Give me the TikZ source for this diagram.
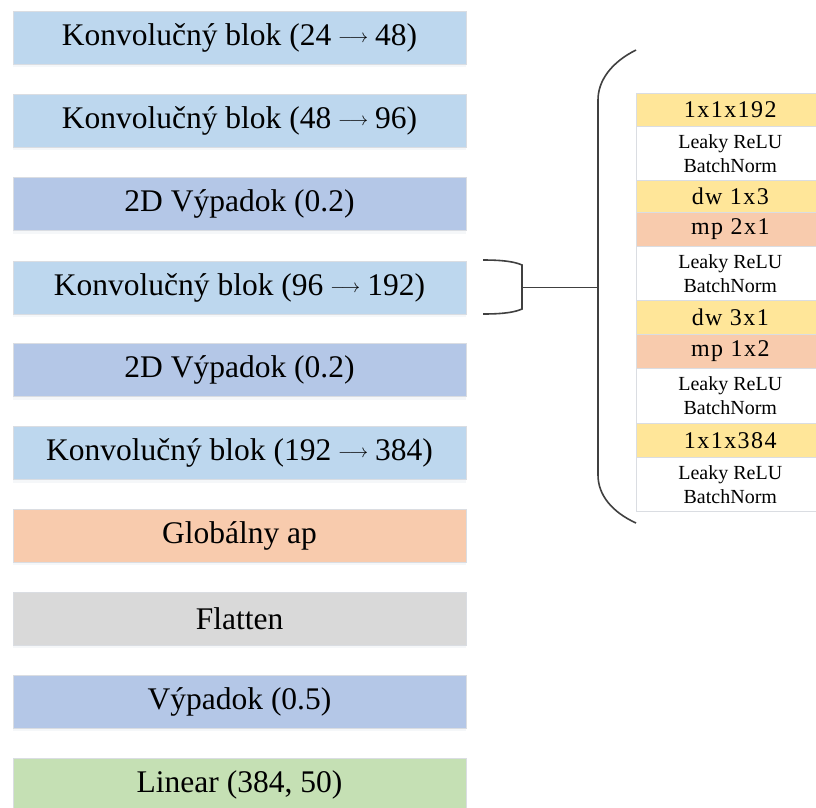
\documentclass[tikz,border=0pt]{standalone}
\usepackage{fontspec}
\usepackage{graphicx}
\setmainfont{Liberation Serif}
\usetikzlibrary{shadows}
\definecolor{convblue}{HTML}{BDD7EE}
\definecolor{dropblue}{HTML}{B4C7E7}
\definecolor{poolorange}{HTML}{F8CBAD}
\definecolor{flatgray}{HTML}{D9D9D9}
\definecolor{lingreen}{HTML}{C5E0B4}
\definecolor{convyellow}{HTML}{FFE699}
\definecolor{bracegray}{HTML}{404040}
\definecolor{edgegray}{HTML}{DADDE2}
\newcommand{\arr}{\hspace{7pt}\raisebox{3pt}{\resizebox{30pt}{!}{$\longrightarrow$}}\hspace{7pt}}
\tikzset{
  layer/.style={draw=edgegray, line width=0.6pt, minimum width=453pt, minimum height=53pt,
    inner sep=0pt, anchor=center, font=\fontsize{31.5}{36}\selectfont,
    drop shadow={opacity=0.10, shadow xshift=0pt, shadow yshift=-3pt, fill=dropblue!70!gray}},
  sub/.style={draw=edgegray, line width=0.6pt, minimum width=188pt, inner sep=0pt,
    anchor=north west, font=\fontsize{24}{26}\selectfont\addfontfeature{LetterSpace=6}},
  subact/.style={sub, fill=white, align=center, font=\fontsize{20}{24}\selectfont},
  brace/.style={draw=bracegray, line width=1.6pt}
}
\begin{document}
\begin{tikzpicture}[x=1pt, y=-1pt]
\useasboundingbox (0,0) rectangle (816,807);
\fill[white] (0,0) rectangle (816,807);

% main stack of layers
\node[layer, fill=convblue]    (l1)  at (239.5, 37.5)  {Konvolučný blok (24\arr48)};
\node[layer, fill=convblue]    (l2)  at (239.5, 120.5) {Konvolučný blok (48\arr96)};
\node[layer, fill=dropblue]    (l3)  at (239.5, 204)   {2D Výpadok (0.2)};
\node[layer, fill=convblue]    (l4)  at (239.5, 287.5) {Konvolučný blok (96\arr192)};
\node[layer, fill=dropblue]    (l5)  at (239.5, 370)   {2D Výpadok (0.2)};
\node[layer, fill=convblue]    (l6)  at (239.5, 453)   {Konvolučný blok (192\arr384)};
\node[layer, fill=poolorange]  (l7)  at (239.5, 535.5) {Globálny ap};
\node[layer, fill=flatgray]    (l8)  at (239.5, 618.5) {Flatten};
\node[layer, fill=dropblue]    (l9)  at (239.5, 701.5) {Výpadok (0.5)};
\node[layer, fill=lingreen]    (l10) at (239.5, 784.5) {Linear (384, 50)};

% detail of the convolution block
\node[sub, fill=convyellow, minimum height=33pt]  (s1)  at (636, 93)  {1x1x192};
\node[subact, minimum height=54pt]                (s2)  at (636, 126) {Leaky ReLU\\BatchNorm};
\node[sub, fill=convyellow, minimum height=32pt]  (s3)  at (636, 180) {dw 1x3};
\node[sub, fill=poolorange, minimum height=34pt]  (s4)  at (636, 212) {mp 2x1};
\node[subact, minimum height=54pt]                (s5)  at (636, 246) {Leaky ReLU\\BatchNorm};
\node[sub, fill=convyellow, minimum height=34pt]  (s6)  at (636, 300) {dw 3x1};
\node[sub, fill=poolorange, minimum height=34pt]  (s7)  at (636, 334) {mp 1x2};
\node[subact, minimum height=55pt]                (s8)  at (636, 368) {Leaky ReLU\\BatchNorm};
\node[sub, fill=convyellow, minimum height=34pt]  (s9)  at (636, 423) {1x1x384};
\node[subact, minimum height=54pt]                (s10) at (636, 457) {Leaky ReLU\\BatchNorm};

% small bracket around the expanded layer
\coordinate (bt) at (483, 260);
\coordinate (bb) at (483, 314);
\coordinate (bm) at (522, 287.5);
\coordinate (bigm) at (598, 287.5);
\draw[brace] (bt) .. controls (505,260) and (515,262) .. (522,265) -- (522,309)
  .. controls (515,312) and (505,314) .. (bb);
\draw[brace] (bm) -- (bigm);

% large brace around the detail
\coordinate (top) at (636, 50);
\coordinate (bot) at (636, 523);
\draw[brace] (top) .. controls (612,62) and (598,80) .. (598,100) -- (598,475)
  .. controls (598,495) and (612,512) .. (bot);
\end{tikzpicture}
\end{document}
